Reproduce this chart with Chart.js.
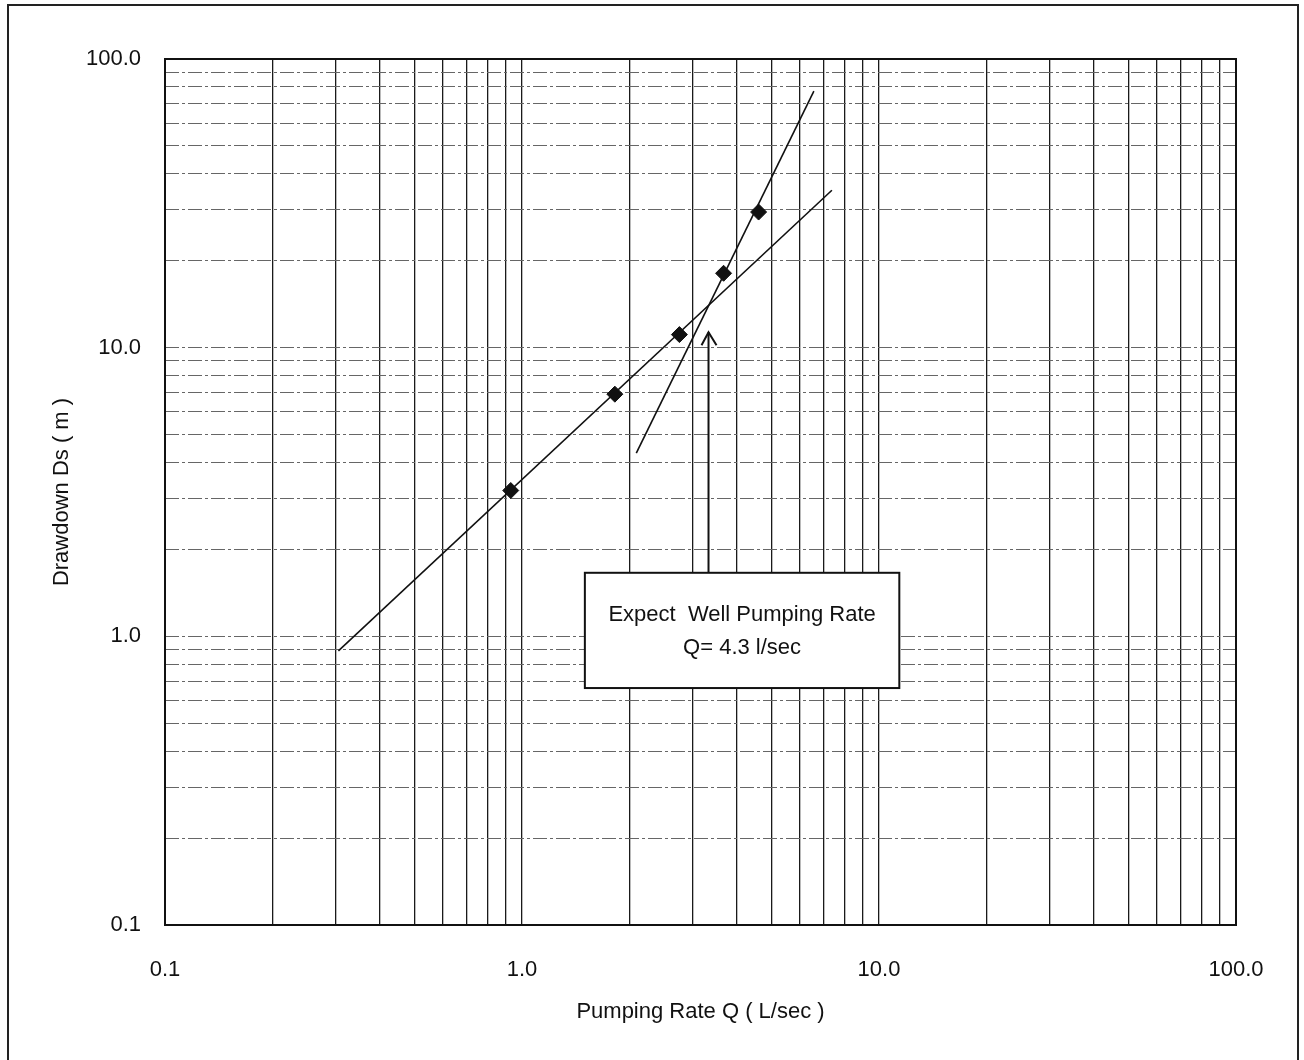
<!DOCTYPE html>
<html>
<head>
<meta charset="utf-8">
<script src="https://cdn.jsdelivr.net/npm/chart.js@4/dist/chart.umd.min.js"></script>
<style>
  body { margin: 0; background: #fff; }
  #wrap { position: relative; width: 1304px; height: 1060px; }
  #frame { position: absolute; left: 7px; top: 4px; width: 1292px; height: 1060px;
           border: 2px solid #222; border-bottom: none; box-sizing: border-box; pointer-events: none; }
  canvas { position: absolute; left: 0; top: 0; }
</style>
</head>
<body>
<div id="wrap">
  <canvas id="chart" width="1304" height="1060"></canvas>
  <div id="frame"></div>
</div>
<script>
// axis decades and labelled ticks
const decades = [0.1, 1, 10];
const steps = [1, 2, 3, 4, 5, 6, 7, 8, 9];
const majorTicks = [0.1, 1, 10, 100];

// measured step test
const pumpQ = [0.93, 1.82, 2.76, 3.67, 4.6];
const drawdown = [3.2, 6.9, 11.1, 18.1, 29.5];

// fitted lines (end points)
const fitLowQ = [0.306, 7.38];
const fitLowDs = [0.89, 35.1];
const fitHighQ = [2.09, 6.57];
const fitHighDs = [4.31, 77.4];

// annotation arrow and box
const arrowQ = [3.33, 3.33];
const arrowDs = [1.66, 11.3];
const boxQ = [1.5, 11.4];
const boxDs = [0.662, 1.66];
const boxText = ["Expect  Well Pumping Rate", "Q= 4.3 l/sec"];

const FONT = "'Liberation Sans Narrow', 'Arial Narrow', 'Liberation Sans', Arial, sans-serif";

const gridVals = [];
decades.forEach(d => steps.forEach(s => gridVals.push(Number((d * s).toPrecision(3)))));
gridVals.push(100);

function pairs(xs, ys) {
  return xs.map((x, i) => ({ x, y: ys[i] }));
}

function setTicks(scale) {
  scale.ticks = gridVals.map(v => ({ value: v, major: majorTicks.includes(v) }));
}

function label(value) {
  return majorTicks.includes(value) ? value.toFixed(1) : "";
}

const annotate = {
  id: "annotate",
  beforeDatasetsDraw(chart) {
    const { ctx, chartArea: a } = chart;
    ctx.save();
    ctx.strokeStyle = "#111";
    ctx.lineWidth = 2;
    ctx.strokeRect(a.left, a.top, a.right - a.left, a.bottom - a.top);
    ctx.restore();
  },
  afterDatasetsDraw(chart) {
    const { ctx } = chart;
    const xs = chart.scales.x, ys = chart.scales.y;
    // arrow head on top of the arrow line
    const tx = xs.getPixelForValue(arrowQ[1]);
    const ty = ys.getPixelForValue(arrowDs[1]);
    ctx.save();
    ctx.strokeStyle = "#111";
    ctx.lineWidth = 2;
    ctx.beginPath();
    ctx.moveTo(tx - 7, ty + 13);
    ctx.lineTo(tx, ty);
    ctx.lineTo(tx + 8, ty + 13);
    ctx.stroke();

    // text box
    const x0 = xs.getPixelForValue(boxQ[0]), x1 = xs.getPixelForValue(boxQ[1]);
    const y0 = ys.getPixelForValue(boxDs[1]), y1 = ys.getPixelForValue(boxDs[0]);
    ctx.fillStyle = "#fff";
    ctx.fillRect(x0, y0, x1 - x0, y1 - y0);
    ctx.lineWidth = 2;
    ctx.strokeRect(x0, y0, x1 - x0, y1 - y0);
    ctx.fillStyle = "#111";
    ctx.font = "22px " + FONT;
    ctx.textAlign = "center";
    ctx.textBaseline = "middle";
    const cx = (x0 + x1) / 2, cy = (y0 + y1) / 2;
    ctx.fillText(boxText[0], cx, cy - 15);
    ctx.fillText(boxText[1], cx, cy + 18);
    ctx.restore();
  }
};

const black = "#111";

new Chart(document.getElementById("chart"), {
  type: "scatter",
  data: {
    datasets: [
      {
        data: pairs(fitLowQ, fitLowDs),
        showLine: true, borderColor: black, borderWidth: 1.6, pointRadius: 0
      },
      {
        data: pairs(fitHighQ, fitHighDs),
        showLine: true, borderColor: black, borderWidth: 1.6, pointRadius: 0
      },
      {
        data: pairs(arrowQ, arrowDs),
        showLine: true, borderColor: black, borderWidth: 2, pointRadius: 0
      },
      {
        data: pairs(pumpQ, drawdown),
        showLine: false, pointStyle: "rectRot", pointRadius: 8,
        backgroundColor: black, borderColor: black, borderWidth: 1
      }
    ]
  },
  options: {
    responsive: false,
    animation: false,
    layout: { padding: { left: 0, top: 59, right: 68, bottom: 0 } },
    plugins: { legend: { display: false }, tooltip: { enabled: false } },
    scales: {
      x: {
        type: "logarithmic",
        min: 0.1, max: 100,
        afterBuildTicks: setTicks,
        afterFit: s => { s.height = 135; },
        grid: { color: "#1a1a1a", lineWidth: 1.3, drawTicks: false },
        border: { display: false },
        ticks: {
          autoSkip: false, maxRotation: 0, padding: 32,
          color: black, font: { family: FONT, size: 22 },
          callback: label
        },
        title: {
          display: true, text: "Pumping Rate Q ( L/sec )",
          color: black, font: { family: FONT, size: 22 },
          padding: { top: 0, bottom: 35 }
        }
      },
      y: {
        type: "logarithmic",
        min: 0.1, max: 100,
        afterBuildTicks: setTicks,
        afterFit: s => { s.width = 165; },
        grid: { color: "#666", lineWidth: 1, drawTicks: false },
        border: { display: false, dash: [14, 3, 3, 3] },
        ticks: {
          autoSkip: false, padding: 24,
          color: black, font: { family: FONT, size: 22 },
          callback: label
        },
        title: {
          display: true, text: "Drawdown Ds ( m )",
          color: black, font: { family: FONT, size: 22 },
          padding: { top: 49, bottom: 0 }
        }
      }
    }
  },
  plugins: [annotate]
});
</script>
</body>
</html>
